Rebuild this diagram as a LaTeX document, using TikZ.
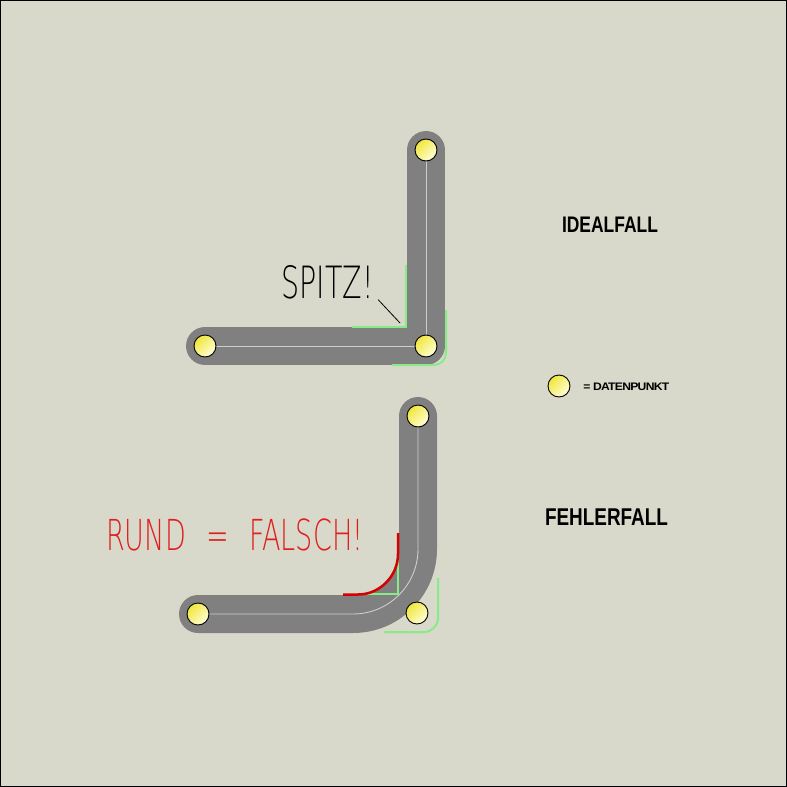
\documentclass[tikz,border=0pt]{standalone}
\usepackage{fontspec}
\setmainfont{Liberation Sans}
\IfFontExistsTF{DejaVuSans-ExtraLight.ttf}
  {\newfontfamily\thinfont{DejaVuSans-ExtraLight.ttf}}
  {\newcommand\thinfont{\sffamily}}
\usepackage{graphicx}
\definecolor{bg}{RGB}{217,217,203}
\definecolor{trackgrey}{RGB}{128,128,128}
\definecolor{centregrey}{RGB}{205,205,205}
\definecolor{edgegreen}{RGB}{135,235,135}
\definecolor{dotyellow}{RGB}{240,230,60}
\definecolor{dotpale}{RGB}{255,255,215}
\definecolor{redtext}{RGB}{225,30,30}
\definecolor{redarc}{RGB}{215,0,0}
\begin{document}
\begin{tikzpicture}[x=1pt,y=-1pt,
  track/.style={line width=38pt, draw=trackgrey, line cap=round, line join=round},
  centre/.style={line width=0.9pt, draw=centregrey},
  edge/.style={line width=2pt, draw=edgegreen},
  dot/.style={circle, minimum size=22pt, inner sep=0pt, draw=black, line width=0.9pt,
    top color=dotyellow, bottom color=dotpale, shading angle=45},
  lbl/.style={inner sep=0pt, font=\bfseries}]
\useasboundingbox (0,0) rectangle (787,787);
\fill[bg] (0,0) rectangle (787,787);
\draw[black, line width=1pt] (0.5,0.5) rectangle (786.5,786.5);
% ideal case
\coordinate (t1) at (426,150);
\coordinate (t2) at (426,346);
\coordinate (t3) at (205,346);
\draw[track] (t1) -- (t2) -- (t3);
\draw[centre] (t1) -- (t2) -- (t3);
\coordinate (ti1) at (405.5,265);
\coordinate (ti2) at (405.5,327);
\coordinate (ti3) at (352,327);
\draw[edge] (ti1) -- (ti2) -- (ti3);
\coordinate (to1) at (446,310);
\coordinate (to2) at (446,365);
\coordinate (to3) at (392,365);
\draw[edge, rounded corners=12pt] (to1) -- (to2) -- (to3);
\node[dot] (d1) at (t1) {};
\node[dot] (d2) at (t2) {};
\node[dot] (d3) at (t3) {};
\node[inner sep=0pt] (spitz) at (327.5,282.7) {\resizebox{92pt}{33pt}{\thinfont SPITZ!}};
\coordinate (sp) at (400,323);
\draw[black, line width=0.8pt] ([xshift=4.5pt]spitz.south east) -- (sp);
% error case
\coordinate (b1) at (418,416);
\coordinate (b2) at (418,614);
\coordinate (b3) at (198,614);
\draw[track, rounded corners=65pt] (b1) -- (b2) -- (b3);
\draw[centre, rounded corners=65pt] (b1) -- (b2) -- (b3);
\coordinate (bi1) at (398,540);
\coordinate (bi2) at (398,594);
\coordinate (bi3) at (358,594);
\draw[edge] (bi1) -- (bi2) -- (bi3);
\coordinate (bo1) at (438,578);
\coordinate (bo2) at (438,632);
\coordinate (bo3) at (384,632);
\draw[edge, rounded corners=14pt] (bo1) -- (bo2) -- (bo3);
\coordinate (r1) at (398,533);
\coordinate (r2) at (398,554);
\coordinate (r3) at (358,594.5);
\coordinate (r4) at (343,594.5);
\draw[redarc, line width=2.5pt] (r1) -- (r2) .. controls (398,576) and (380,594.5) .. (r3) -- (r4);
\node[dot] (e1) at (b1) {};
\node[dot] (e2) at (417,613) {};
\node[dot] (e3) at (b3) {};
\node[inner sep=0pt, text=redtext] (rund) at (234.7,534.8) {\resizebox{257pt}{31.7pt}{\thinfont RUND\hspace{0.75em}=\hspace{0.75em}FALSCH!}};
% labels
\node[lbl] (ideal) at (610,224.5) {\resizebox{96pt}{15.5pt}{IDEALFALL}};
\node[lbl] (fehler) at (606.5,516.7) {\resizebox{123pt}{16.7pt}{FEHLERFALL}};
\node[dot] (legdot) at (559,386) {};
\node[lbl] (legtxt) at (626.3,386.3) {\resizebox{86pt}{7.5pt}{\addfontfeature{LetterSpace=-6}= DATENPUNKT}};
\end{tikzpicture}
\end{document}
